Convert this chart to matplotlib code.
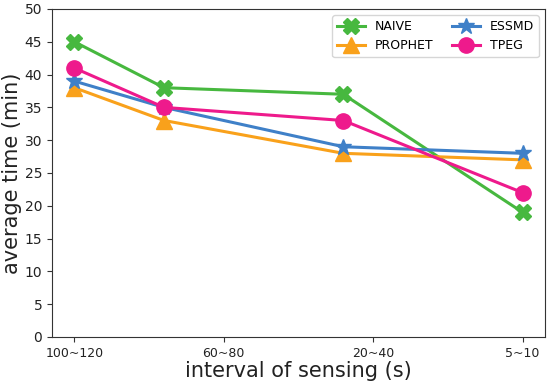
import matplotlib
matplotlib.use("Agg")
import matplotlib.pyplot as plt

categories = ["100~120", "60~80", "20~40", "5~10"]
x_values = [0, 0.6, 1.8, 3]
naive = [45, 38, 37, 19]
prophet = [38, 33, 28, 27]
essmd = [39, 35, 29, 28]
tpeg = [41, 35, 33, 22]

fig = plt.figure(figsize=(5.5, 3.84), dpi=100)
ax = fig.add_axes([0.0945, 0.1224, 0.8965, 0.8542])

ax.plot(x_values, naive, color="#47B83F", marker="X", markersize=11, linewidth=2.2, label="NAIVE")
ax.plot(x_values, prophet, color="#F9A11B", marker="^", markersize=11, linewidth=2.2, label="PROPHET")
ax.plot(x_values, essmd, color="#3F80C8", marker="*", markersize=12, linewidth=2.2, label="ESSMD")
ax.plot(x_values, tpeg, color="#EE1A8C", marker="o", markersize=11, linewidth=2.2, label="TPEG")

for s in ax.spines.values():
    s.set_color("#333333")
ax.tick_params(colors="#333333", labelcolor="#222222")
ax.set_xticks(range(len(categories)))
ax.set_xticklabels(categories, fontsize=9)
ax.set_ylim(0, 50)
ax.set_yticks(range(0, 51, 5))
ax.tick_params(axis="y", labelsize=10)
ax.set_xlabel("interval of sensing (s)", fontsize=15, labelpad=1, color="#222222")
ax.set_ylabel("average time (min)", fontsize=15, labelpad=2, color="#222222")
ax.legend(ncol=2, loc="upper right", fontsize=9, handlelength=2.2, columnspacing=1.5)

fig.savefig("out.png", dpi=100)
